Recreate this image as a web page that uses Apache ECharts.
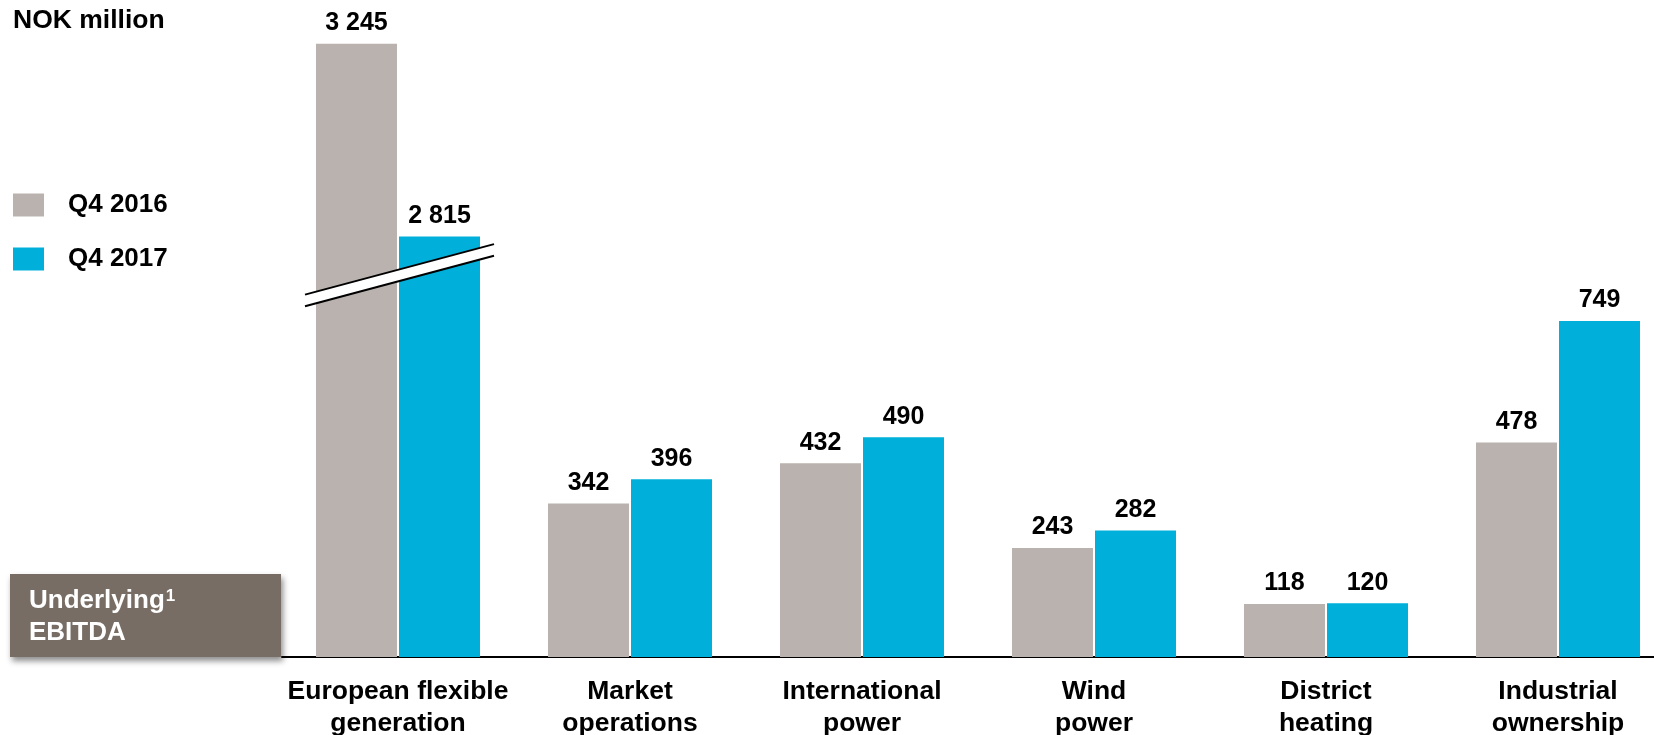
<!DOCTYPE html>
<html><head><meta charset="utf-8">
<script src="https://cdn.jsdelivr.net/npm/echarts@6/dist/echarts.min.js"></script>
<style>html,body{margin:0;padding:0;background:#fff}#c{width:1654px;height:735px}</style>
</head><body><div id="c"></div>
<script>
const categories = ['European flexible\ngeneration','Market\noperations','International\npower','Wind\npower','District\nheating','Industrial\nownership'];
const seriesNames = ['Q4 2016','Q4 2017'];
const q4_2016 = [3245, 342, 432, 243, 118, 478];
const q4_2017 = [2815, 396, 490, 282, 120, 749];
const axisBreak = { start: 850, end: 2728 };
const unitLabel = 'NOK million';
const boxLines = ['Underlying', '1', 'EBITDA'];

const FONT = "'Liberation Sans', Arial, sans-serif";
const GRAY = '#bab2ae', BLUE = '#00b0db';
const fmt = v => String(v).replace(/\B(?=(\d{3})+(?!\d))/g, ' ');

const chart = echarts.init(document.getElementById('c'), null, { renderer: 'canvas' });

function barSeries(name, data, color) {
  return {
    name, type: 'bar', data, barWidth: 81, barGap: '2.5%',
    itemStyle: { color },
    label: { show: true, position: 'top', distance: 8, formatter: p => fmt(p.value),
      fontFamily: FONT, fontWeight: 'bold', fontSize: 25, color: '#000' },
    emphasis: { disabled: true }
  };
}

chart.setOption({
  animation: false,
  textStyle: { fontFamily: FONT },
  grid: { left: 282, right: -20, top: 19, bottom: 78, outerBoundsMode: 'none', containLabel: false },
  legend: {
    orient: 'vertical', left: 13, top: 192, padding: 0, itemGap: 28,
    itemWidth: 31, itemHeight: 23, icon: 'rect', selectedMode: false,
    textStyle: { fontFamily: FONT, fontWeight: 'bold', fontSize: 26, color: '#000', padding: [0, 0, 0, 19] },
    data: seriesNames
  },
  xAxis: {
    type: 'category', data: categories,
    axisLine: { show: true, lineStyle: { color: '#000', width: 2 } },
    axisTick: { show: false },
    axisLabel: { interval: 0, margin: 19, fontFamily: FONT, fontWeight: 'bold', fontSize: 26.5, lineHeight: 32, color: '#000' }
  },
  yAxis: {
    type: 'value', min: 0, max: 3300, show: false, splitLine: { show: false },
    breaks: [{ start: axisBreak.start, end: axisBreak.end, gap: 0 }],
    breakArea: { show: false }
  },
  series: [barSeries(seriesNames[0], q4_2016, GRAY), barSeries(seriesNames[1], q4_2017, BLUE)]
});

// decorations
const xc = chart.convertToPixel({ xAxisIndex: 0 }, categories[0]);
const yb = chart.convertToPixel({ yAxisIndex: 0 }, axisBreak.start);
const lx = xc - 93, rx = xc + 96, ly = yb + 24.8, ry = yb - 25.7, h = 5.8;

const ctx = document.createElement('canvas').getContext('2d');
ctx.font = `bold 26px ${FONT}`;
const wUnder = ctx.measureText(boxLines[0]).width;

chart.setOption({
  graphic: [
    { type: 'text', left: 13, top: 7, style: { text: unitLabel, font: `bold 26.5px ${FONT}`, fill: '#000' } },
    { type: 'polygon', z: 100, shape: { points: [[lx, ly - h], [rx, ry - h], [rx, ry + h], [lx, ly + h]] }, style: { fill: '#fff' } },
    { type: 'polyline', z: 101, shape: { points: [[lx, ly - h], [rx, ry - h]] }, style: { stroke: '#000', lineWidth: 2 } },
    { type: 'polyline', z: 101, shape: { points: [[lx, ly + h], [rx, ry + h]] }, style: { stroke: '#000', lineWidth: 2 } },
    { type: 'rect', z: 100, shape: { x: 10, y: 574, width: 271, height: 83 },
      style: { fill: '#776d64', shadowBlur: 6, shadowOffsetX: 2, shadowOffsetY: 4, shadowColor: 'rgba(0,0,0,0.45)' } },
    { type: 'text', z: 101, x: 29, y: 601, style: { text: boxLines[0], font: `bold 26px ${FONT}`, fill: '#fff', verticalAlign: 'middle' } },
    { type: 'text', z: 101, x: 29 + wUnder + 1, y: 596, style: { text: boxLines[1], font: `bold 17px ${FONT}`, fill: '#fff', verticalAlign: 'middle' } },
    { type: 'text', z: 101, x: 29, y: 633, style: { text: boxLines[2], font: `bold 26px ${FONT}`, fill: '#fff', verticalAlign: 'middle' } }
  ]
});
</script></body></html>
